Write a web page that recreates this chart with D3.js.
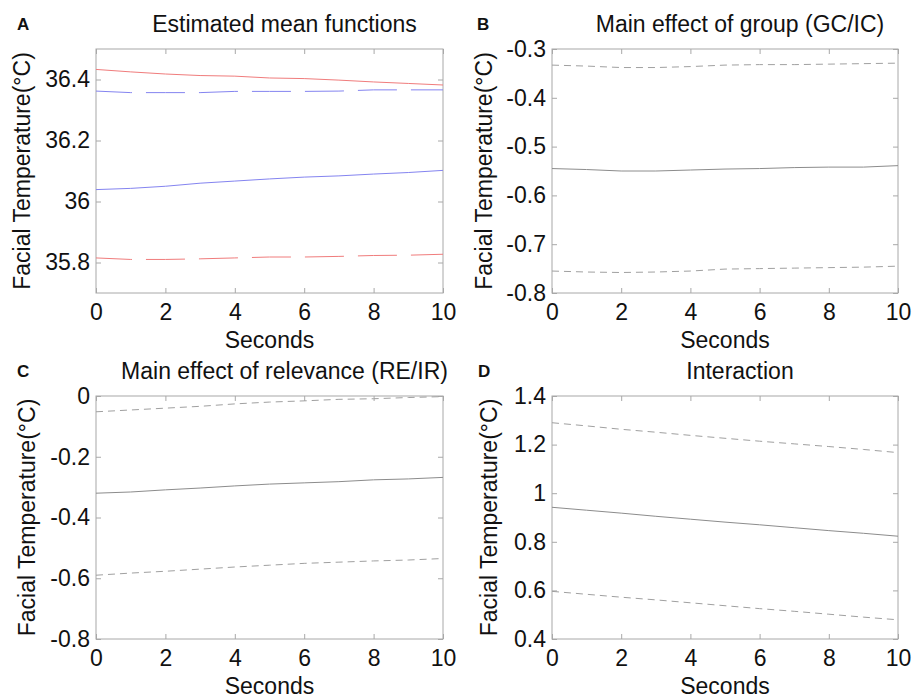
<!DOCTYPE html>
<html>
<head>
<meta charset="utf-8">
<script src="https://cdn.jsdelivr.net/npm/d3@7"></script>
<style>
  html, body { margin: 0; padding: 0; background: #fff; }
  svg { display: block; }
  text { font-family: "Liberation Sans", Arial, sans-serif; fill: #111; }
</style>
</head>
<body>
<svg id="chart" width="914" height="698"></svg>
<script>
// ---------------- DATA ----------------
const seconds = [0, 1, 2, 3, 4, 5, 6, 7, 8, 9, 10];
const xTicks = [0, 2, 4, 6, 8, 10];
const xTickLabels = ["0", "2", "4", "6", "8", "10"];

// Panel A: estimated mean functions
const aRedSolid   = [36.433, 36.425, 36.418, 36.413, 36.411, 36.405, 36.403, 36.398, 36.392, 36.387, 36.382];
const aBlueDashed = [36.362, 36.357, 36.357, 36.357, 36.361, 36.361, 36.361, 36.362, 36.366, 36.366, 36.366];
const aBlueSolid  = [36.039, 36.043, 36.050, 36.060, 36.067, 36.074, 36.080, 36.084, 36.090, 36.095, 36.102];
const aRedDashed  = [35.815, 35.810, 35.810, 35.812, 35.815, 35.818, 35.818, 35.820, 35.823, 35.824, 35.827];
const aTicks = [35.8, 36, 36.2, 36.4];
const aTickLabels = ["35.8", "36", "36.2", "36.4"];

// Panel B: main effect of group
const bUpper = [-0.333, -0.335, -0.338, -0.338, -0.336, -0.333, -0.332, -0.332, -0.331, -0.330, -0.329];
const bMean  = [-0.545, -0.547, -0.550, -0.550, -0.548, -0.546, -0.545, -0.543, -0.542, -0.542, -0.539];
const bLower = [-0.755, -0.757, -0.758, -0.757, -0.755, -0.751, -0.750, -0.749, -0.748, -0.747, -0.745];
const bTicks = [-0.8, -0.7, -0.6, -0.5, -0.4, -0.3];
const bTickLabels = ["-0.8", "-0.7", "-0.6", "-0.5", "-0.4", "-0.3"];

// Panel C: main effect of relevance
const cUpper = [-0.052, -0.046, -0.040, -0.034, -0.026, -0.020, -0.016, -0.011, -0.009, -0.005, -0.002];
const cMean  = [-0.320, -0.316, -0.309, -0.303, -0.296, -0.290, -0.286, -0.282, -0.276, -0.273, -0.268];
const cLower = [-0.590, -0.583, -0.577, -0.570, -0.563, -0.557, -0.551, -0.547, -0.543, -0.540, -0.535];
const cTicks = [-0.8, -0.6, -0.4, -0.2, 0];
const cTickLabels = ["-0.8", "-0.6", "-0.4", "-0.2", "0"];

// Panel D: interaction
const dUpper = [1.290, 1.277, 1.263, 1.251, 1.238, 1.226, 1.214, 1.203, 1.192, 1.180, 1.167];
const dMean  = [0.942, 0.930, 0.918, 0.905, 0.893, 0.881, 0.870, 0.858, 0.846, 0.835, 0.823];
const dLower = [0.596, 0.584, 0.572, 0.561, 0.549, 0.537, 0.525, 0.514, 0.502, 0.490, 0.479];
const dTicks = [0.4, 0.6, 0.8, 1, 1.2, 1.4];
const dTickLabels = ["0.4", "0.6", "0.8", "1", "1.2", "1.4"];

const panelLetters = ["A", "B", "C", "D"];
const panelTitles = ["Estimated mean functions", "Main effect of group (GC/IC)",
                     "Main effect of relevance (RE/IR)", "Interaction"];
const xLabel = "Seconds";
const yLabel = "Facial Temperature(\u00B0C)";

// ---------------- LAYOUT / STYLE ----------------
const svg = d3.select("#chart");
const FS = 23;
const RED = "#f07c7c", BLUE = "#8484f0", GREY_SOLID = "#8c8c8c", GREY_DASH = "#a0a0a0";

const panels = [
  { left: 96,  right: 443, top: 49,  bottom: 293, domain: [35.7, 36.5], ticks: aTicks, labels: aTickLabels,
    letterX: 17, ylabX: 29.5,
    series: [
      { v: aRedSolid, color: RED, dash: null },
      { v: aBlueDashed, color: BLUE, dash: "39,14", offset: 3 },
      { v: aBlueSolid, color: BLUE, dash: null },
      { v: aRedDashed, color: RED, dash: "39,14", offset: 3 }
    ] },
  { left: 552, right: 898, top: 49,  bottom: 293, domain: [-0.8, -0.3], ticks: bTicks, labels: bTickLabels,
    letterX: 477, ylabX: 491.5,
    series: [
      { v: bUpper, color: GREY_DASH, dash: "7,5" },
      { v: bMean, color: GREY_SOLID, dash: null },
      { v: bLower, color: GREY_DASH, dash: "7,5" }
    ] },
  { left: 96,  right: 443, top: 396, bottom: 639, domain: [-0.8, 0], ticks: cTicks, labels: cTickLabels,
    letterX: 17, ylabX: 34.5,
    series: [
      { v: cUpper, color: GREY_DASH, dash: "7,5" },
      { v: cMean, color: GREY_SOLID, dash: null },
      { v: cLower, color: GREY_DASH, dash: "7,5" }
    ] },
  { left: 552, right: 898, top: 396, bottom: 639, domain: [0.4, 1.4], ticks: dTicks, labels: dTickLabels,
    letterX: 478, ylabX: 496.5,
    series: [
      { v: dUpper, color: GREY_DASH, dash: "7,5" },
      { v: dMean, color: GREY_SOLID, dash: null },
      { v: dLower, color: GREY_DASH, dash: "7,5" }
    ] }
];

panels.forEach((p, pi) => {
  const x = d3.scaleLinear().domain([0, 10]).range([p.left, p.right]);
  const y = d3.scaleLinear().domain(p.domain).range([p.bottom, p.top]);
  const g = svg.append("g");

  // frame
  g.append("rect")
    .attr("x", p.left).attr("y", p.top)
    .attr("width", p.right - p.left).attr("height", p.bottom - p.top)
    .attr("fill", "#fff").attr("stroke", "#a8a8a8").attr("stroke-width", 1);

  // axes
  const styleAxis = sel => {
    sel.select(".domain").remove();
    sel.selectAll(".tick line").attr("stroke", "#a8a8a8");
    sel.selectAll(".tick text").attr("font-size", FS).attr("fill", "#111")
      .style("font-family", "'Liberation Sans', Arial, sans-serif");
  };
  g.append("g").attr("transform", `translate(0,${p.bottom})`)
    .call(d3.axisBottom(x).tickValues(xTicks).tickFormat((d, i) => xTickLabels[i]).tickSize(-5).tickPadding(11))
    .call(styleAxis);
  g.append("g").attr("transform", `translate(0,${p.top})`)
    .call(d3.axisTop(x).tickValues(xTicks).tickFormat("").tickSize(-5))
    .call(styleAxis);
  g.append("g").attr("transform", `translate(${p.left},0)`)
    .call(d3.axisLeft(y).tickValues(p.ticks).tickFormat((d, i) => p.labels[i]).tickSize(-5).tickPadding(6))
    .call(styleAxis);
  g.append("g").attr("transform", `translate(${p.right},0)`)
    .call(d3.axisRight(y).tickValues(p.ticks).tickFormat("").tickSize(-5))
    .call(styleAxis);

  // lines
  const line = d3.line().x((d, i) => x(seconds[i])).y(d => y(d));
  p.series.forEach(s => {
    g.append("path").datum(s.v)
      .attr("d", line)
      .attr("fill", "none")
      .attr("stroke", s.color)
      .attr("stroke-width", 1)
      .attr("stroke-dasharray", s.dash)
      .attr("stroke-dashoffset", s.offset || 0);
  });

  // title
  g.append("text")
    .attr("x", (p.left + p.right) / 2 + 15).attr("y", p.top - 17)
    .attr("text-anchor", "middle").attr("font-size", FS)
    .text(panelTitles[pi]);

  // panel letter
  g.append("text")
    .attr("x", p.letterX).attr("y", p.top - 19)
    .attr("font-size", 17).attr("font-weight", "bold")
    .text(panelLetters[pi]);

  // x label
  g.append("text")
    .attr("x", (p.left + p.right) / 2).attr("y", p.bottom + 55)
    .attr("text-anchor", "middle").attr("font-size", FS)
    .text(xLabel);

  // y label
  g.append("text")
    .attr("transform", `translate(${p.ylabX},${(p.top + p.bottom) / 2}) rotate(-90)`)
    .attr("text-anchor", "middle").attr("font-size", FS)
    .text(yLabel);
});
</script>
</body>
</html>
